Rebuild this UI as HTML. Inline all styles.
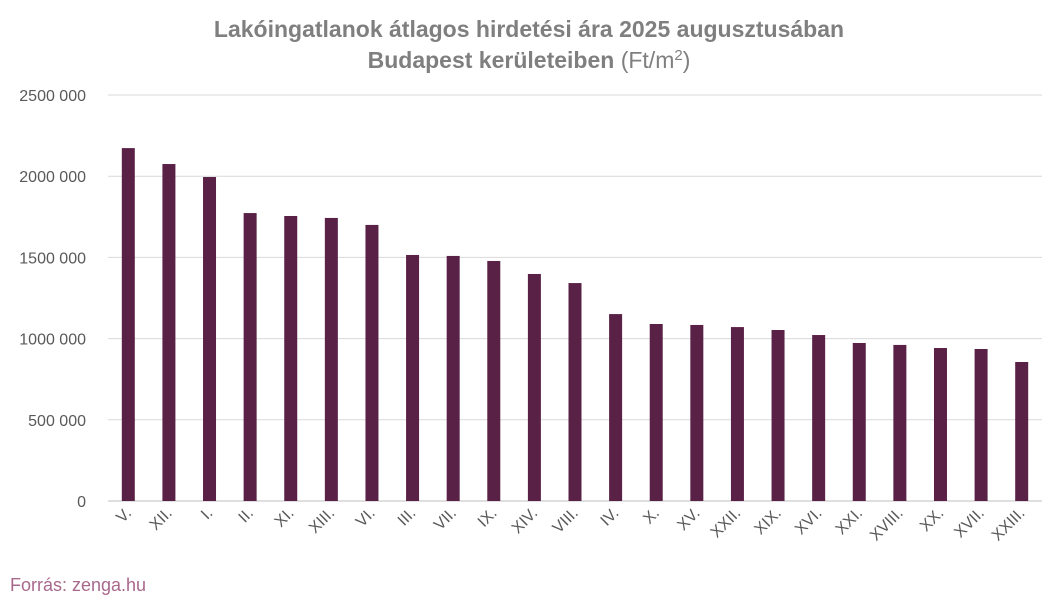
<!DOCTYPE html>
<html><head><meta charset="utf-8">
<style>
body{margin:0;background:#fff;width:1058px;height:605px;overflow:hidden;font-family:"Liberation Sans",sans-serif;}
</style></head>
<body>
<svg width="1058" height="605">
<text x="529" y="37" text-anchor="middle" font-size="23" font-weight="bold" fill="#7f7f7f">Lakóingatlanok átlagos hirdetési ára 2025 augusztusában</text>
<text x="529" y="68" text-anchor="middle" font-size="23" fill="#7f7f7f"><tspan font-weight="bold">Budapest kerületeiben</tspan> (Ft/m<tspan dy="-8" font-size="15">2</tspan><tspan dy="8">)</tspan></text>
<g id="grid"></g><g id="bars"></g><g id="xl"></g>
<text x="10" y="591" font-size="18" fill="#a8688c">Forrás: zenga.hu</text>
</svg>
<script>
const categories=["V.","XII.","I.","II.","XI.","XIII.","VI.","III.","VII.","IX.","XIV.","VIII.","IV.","X.","XV.","XXII.","XIX.","XVI.","XXI.","XVIII.","XX.","XVII.","XXIII."];
const values=[2173000,2075000,1995000,1773000,1755000,1743000,1700000,1515000,1509000,1478000,1398000,1342000,1151000,1090000,1084000,1071000,1053000,1022000,973000,961000,942000,936000,856000];
const ticks=[0,500000,1000000,1500000,2000000,2500000];
const tickLabels=["0","500 000","1000 000","1500 000","2000 000","2500 000"];
const NS="http://www.w3.org/2000/svg";
const L=108,R=1042,T=95,B=501,MAX=2500000;
const y=v=>B-(v/MAX)*(B-T);
const band=(R-L)/categories.length;
const x=i=>L+band*(i+0.5);
function mk(t,a,p){const e=document.createElementNS(NS,t);for(const k in a)e.setAttribute(k,a[k]);p.appendChild(e);return e;}
const g=document.getElementById('grid');
ticks.forEach((t,i)=>{
 const ln=mk('line',{x1:L,x2:R,y1:y(t),y2:y(t),stroke:i==0?'#bfbfbf':'#d9d9d9','stroke-width':1},g);
 
 
 const tx=mk('text',{x:86,y:y(t)+6,'text-anchor':'end','font-size':16,fill:'#595959'},g);
 tx.textContent=tickLabels[i];
 
 
});
const bg=document.getElementById('bars'),xg=document.getElementById('xl');
values.forEach((v,i)=>{
 const r=mk('rect',{x:x(i)-6.5,y:y(v),width:13,height:B-y(v),fill:'#5a2146'},bg);
 
 
 const t=mk('text',{x:x(i)+4,y:514,'text-anchor':'end','font-size':16,fill:'#595959',transform:`rotate(-45 ${x(i)+4} 514)`},xg);
 t.textContent=categories[i];
 
 
});
</script>
</body></html>
